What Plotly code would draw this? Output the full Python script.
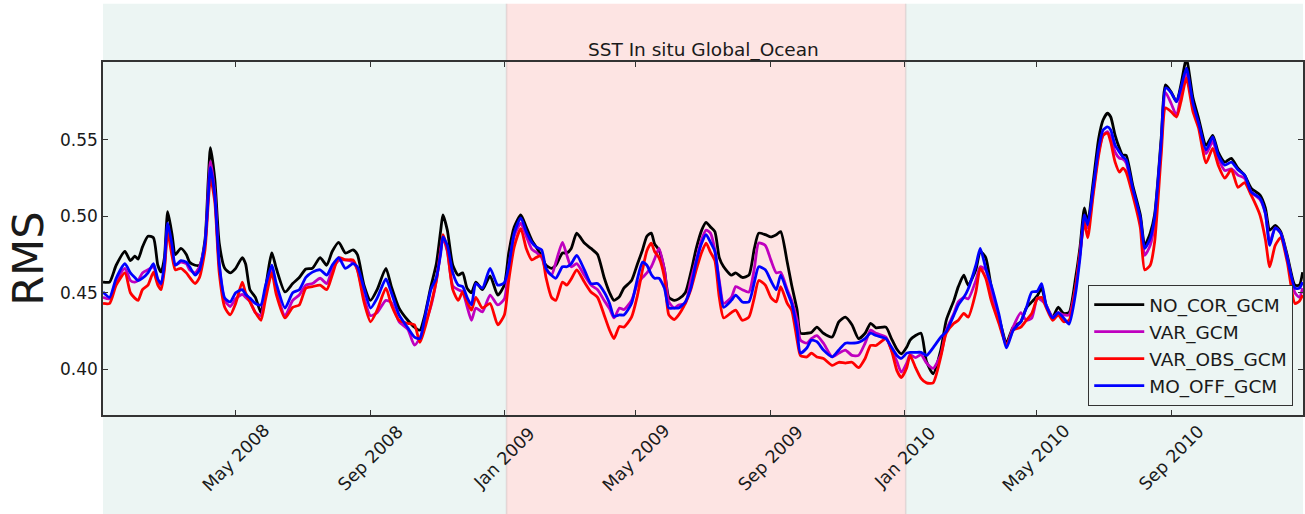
import pandas as pd
import plotly.graph_objects as go

# Days since 2008-01-01 of each RMS sample
day_offset = [
    0, 6, 12, 20, 25, 29, 32, 36, 41, 46, 50, 53, 56, 59, 63, 66, 71, 76, 79, 84,
    88, 93, 96, 98, 102, 106, 111, 116, 121, 127, 130, 134, 139, 144, 148, 154, 158, 166, 173, 179,
    185, 191, 198, 204, 209, 215, 221, 228, 232, 238, 244, 250, 258, 263, 270, 278, 284, 289, 293, 299,
    304, 308, 310, 314, 319, 324, 328, 332, 336, 340, 346, 353, 360, 366,
    370, 375, 381, 386, 391, 395, 400, 404, 409, 413, 419, 423, 427, 432, 439, 445, 451, 457, 462, 466,
    471, 475, 482, 487, 492, 496, 500, 503, 507, 512, 516, 521, 525, 531, 536, 541, 546,
    550, 554, 558, 562, 566, 573, 577, 583, 589, 594, 598, 604, 609, 614, 618, 624, 628, 633, 636, 642,
    646, 651, 657, 665, 671, 677, 683, 689, 695, 700, 705, 714, 719, 724, 728, 733,
    736, 741, 746, 751, 757, 764, 769, 776, 780, 785, 789, 796, 800, 805, 810, 817, 824, 830, 837, 842,
    847, 852, 856, 860, 866, 871, 876, 881, 887, 891,
    895, 898, 903, 908, 912, 916, 919, 923, 927, 930, 933, 939, 946, 950, 955, 959, 965, 969, 974, 979,
    983, 988, 994, 999, 1006, 1012, 1017, 1023, 1029, 1035, 1041, 1047, 1055, 1060, 1064, 1069, 1074, 1080,
    1087, 1091, 1094,
]

no_cor_gcm = [
    0.457, 0.457, 0.468, 0.477, 0.471, 0.474, 0.472, 0.480, 0.487, 0.486, 0.468, 0.4635, 0.473, 0.503, 0.488, 0.475, 0.479, 0.475, 0.470, 0.468,
    0.468, 0.4845, 0.524, 0.545, 0.524, 0.4825, 0.466, 0.463, 0.466, 0.473, 0.469, 0.452, 0.447, 0.437, 0.452, 0.476, 0.466, 0.4505, 0.456, 0.460,
    0.4655, 0.466, 0.473, 0.468, 0.477, 0.483, 0.476, 0.478, 0.475, 0.455, 0.445, 0.452, 0.466, 0.454, 0.440, 0.432, 0.4275, 0.4255, 0.434, 0.454,
    0.469, 0.491, 0.501, 0.491, 0.468, 0.4615, 0.463, 0.453, 0.450, 0.457, 0.452, 0.461, 0.4485, 0.455,
    0.476, 0.493, 0.501, 0.493, 0.4845, 0.480, 0.474, 0.468, 0.466, 0.468, 0.476, 0.476, 0.479, 0.489, 0.4825, 0.479, 0.475, 0.460, 0.450, 0.445,
    0.4475, 0.453, 0.458, 0.468, 0.478, 0.487, 0.489, 0.482, 0.478, 0.465, 0.447, 0.445, 0.446, 0.450, 0.463, 0.479, 0.491,
    0.496, 0.493, 0.490, 0.473, 0.467, 0.4615, 0.463, 0.460, 0.4615, 0.479, 0.489, 0.488, 0.4865, 0.488, 0.490, 0.470, 0.455, 0.4386, 0.4235, 0.4235,
    0.424, 0.4275, 0.4235, 0.421, 0.431, 0.434, 0.429, 0.420, 0.4235, 0.430, 0.427, 0.4275, 0.420, 0.413, 0.410, 0.4145,
    0.419, 0.422, 0.4235, 0.405, 0.397, 0.4125, 0.432, 0.445, 0.454, 0.4615, 0.455, 0.465, 0.477, 0.473, 0.454, 0.434, 0.4175, 0.4275, 0.431, 0.440,
    0.444, 0.448, 0.453, 0.442, 0.434, 0.4405, 0.4365, 0.437, 0.460, 0.480,
    0.5055, 0.496, 0.5225, 0.551, 0.563, 0.5675, 0.565, 0.553, 0.5445, 0.540, 0.540, 0.5205, 0.501, 0.481, 0.489, 0.501, 0.551, 0.586, 0.5815, 0.575,
    0.586, 0.603, 0.5775, 0.5645, 0.5465, 0.553, 0.542, 0.5355, 0.538, 0.5315, 0.527, 0.5185, 0.514, 0.5055, 0.491, 0.494, 0.490, 0.4745,
    0.455, 0.455, 0.4635,
]

var_gcm = [
    0.447, 0.446, 0.457, 0.466, 0.458, 0.457, 0.458, 0.463, 0.465, 0.467, 0.458, 0.455, 0.467, 0.493, 0.478, 0.468, 0.470, 0.469, 0.465, 0.463,
    0.467, 0.482, 0.516, 0.536, 0.515, 0.468, 0.445, 0.441, 0.446, 0.449, 0.447, 0.4445, 0.437, 0.435, 0.449, 0.466, 0.452, 0.435, 0.445, 0.4485,
    0.455, 0.456, 0.4595, 0.456, 0.465, 0.471, 0.4715, 0.470, 0.465, 0.447, 0.435, 0.437, 0.445, 0.4435, 0.431, 0.426, 0.4157, 0.4205, 0.428, 0.441,
    0.458, 0.478, 0.486, 0.477, 0.4545, 0.452, 0.4505, 0.441, 0.432, 0.440, 0.4375, 0.4485, 0.442, 0.446,
    0.467, 0.487, 0.4955, 0.487, 0.4785, 0.4765, 0.473, 0.465, 0.4615, 0.470, 0.483, 0.4745, 0.467, 0.469, 0.4615, 0.455, 0.452, 0.445, 0.4395, 0.4335,
    0.440, 0.439, 0.445, 0.455, 0.460, 0.463, 0.467, 0.472, 0.479, 0.465, 0.444, 0.440, 0.442, 0.443, 0.458, 0.4715, 0.485,
    0.491, 0.489, 0.478, 0.458, 0.443, 0.447, 0.454, 0.452, 0.4505, 0.466, 0.4825, 0.481, 0.4715, 0.463, 0.4635, 0.452, 0.445, 0.432, 0.419, 0.417,
    0.420, 0.422, 0.417, 0.408, 0.4105, 0.4125, 0.409, 0.409, 0.417, 0.4255, 0.4235, 0.421, 0.4125, 0.405, 0.398, 0.404,
    0.4095, 0.4075, 0.4095, 0.404, 0.4005, 0.4095, 0.4255, 0.4365, 0.444, 0.447, 0.446, 0.458, 0.467, 0.465, 0.450, 0.432, 0.4157, 0.4275, 0.437, 0.432,
    0.4335, 0.4465, 0.445, 0.442, 0.434, 0.437, 0.4355, 0.4355, 0.454, 0.476,
    0.4985, 0.4925, 0.516, 0.542, 0.553, 0.5555, 0.5515, 0.542, 0.538, 0.5375, 0.535, 0.516, 0.497, 0.4745, 0.481, 0.496, 0.546, 0.581, 0.574, 0.566,
    0.579, 0.594, 0.572, 0.5605, 0.541, 0.549, 0.538, 0.530, 0.531, 0.527, 0.525, 0.516, 0.511, 0.502, 0.483, 0.4925, 0.489, 0.4725,
    0.450, 0.447, 0.453,
]

var_obs_gcm = [
    0.443, 0.443, 0.455, 0.463, 0.450, 0.4465, 0.445, 0.452, 0.455, 0.4635, 0.455, 0.452, 0.465, 0.489, 0.474, 0.465, 0.466, 0.463, 0.460, 0.456,
    0.460, 0.478, 0.509, 0.5255, 0.509, 0.463, 0.4405, 0.4355, 0.443, 0.457, 0.450, 0.444, 0.437, 0.432, 0.445, 0.463, 0.449, 0.4335, 0.4405, 0.442,
    0.453, 0.454, 0.455, 0.452, 0.4615, 0.473, 0.4715, 0.4715, 0.465, 0.444, 0.431, 0.4386, 0.453, 0.442, 0.432, 0.430, 0.429, 0.4175, 0.4255, 0.442,
    0.458, 0.478, 0.488, 0.478, 0.452, 0.445, 0.4505, 0.444, 0.4386, 0.447, 0.440, 0.443, 0.429, 0.4355,
    0.458, 0.480, 0.492, 0.479, 0.4715, 0.473, 0.4745, 0.460, 0.447, 0.445, 0.457, 0.455, 0.459, 0.465, 0.457, 0.4505, 0.447, 0.4355, 0.4255, 0.420,
    0.428, 0.4275, 0.434, 0.447, 0.465, 0.4775, 0.4825, 0.477, 0.473, 0.460, 0.4355, 0.4325, 0.4355, 0.443, 0.452, 0.465, 0.4765,
    0.4825, 0.4765, 0.471, 0.447, 0.4335, 0.437, 0.4386, 0.432, 0.434, 0.447, 0.458, 0.455, 0.447, 0.444, 0.454, 0.443, 0.4386, 0.419, 0.409, 0.408,
    0.4105, 0.408, 0.407, 0.4025, 0.4045, 0.404, 0.4045, 0.401, 0.407, 0.4155, 0.4155, 0.420, 0.4125, 0.399, 0.3945, 0.401,
    0.409, 0.401, 0.394, 0.391, 0.391, 0.408, 0.4235, 0.430, 0.432, 0.4365, 0.434, 0.4505, 0.466, 0.4595, 0.445, 0.430, 0.4157, 0.4255, 0.4275, 0.432,
    0.4365, 0.446, 0.447, 0.4405, 0.432, 0.4355, 0.431, 0.432, 0.454, 0.476,
    0.496, 0.486, 0.514, 0.540, 0.553, 0.5545, 0.5485, 0.5355, 0.529, 0.5315, 0.529, 0.514, 0.4925, 0.465, 0.468, 0.483, 0.540, 0.571, 0.5685, 0.565,
    0.575, 0.5905, 0.5685, 0.558, 0.535, 0.5445, 0.5335, 0.525, 0.5305, 0.519, 0.522, 0.514, 0.501, 0.485, 0.467, 0.481, 0.486, 0.470,
    0.443, 0.4445, 0.4485,
]

mo_off_gcm = [
    0.4505, 0.447, 0.4595, 0.469, 0.463, 0.460, 0.458, 0.4595, 0.463, 0.469, 0.459, 0.456, 0.469, 0.4955, 0.481, 0.468, 0.471, 0.470, 0.467, 0.4615,
    0.465, 0.4825, 0.513, 0.532, 0.513, 0.469, 0.4465, 0.444, 0.450, 0.452, 0.449, 0.4465, 0.443, 0.442, 0.454, 0.468, 0.456, 0.440, 0.450, 0.452,
    0.460, 0.4635, 0.465, 0.4615, 0.468, 0.473, 0.466, 0.469, 0.467, 0.453, 0.440, 0.4465, 0.459, 0.450, 0.4355, 0.427, 0.421, 0.420, 0.432, 0.452,
    0.460, 0.476, 0.4865, 0.481, 0.463, 0.455, 0.454, 0.447, 0.442, 0.456, 0.453, 0.466, 0.455, 0.4565,
    0.467, 0.489, 0.499, 0.490, 0.483, 0.480, 0.478, 0.466, 0.4615, 0.4595, 0.467, 0.467, 0.469, 0.4745, 0.465, 0.456, 0.456, 0.4505, 0.443, 0.4345,
    0.4355, 0.4355, 0.443, 0.458, 0.470, 0.468, 0.462, 0.4595, 0.4595, 0.453, 0.440, 0.440, 0.440, 0.444, 0.453, 0.470, 0.4825,
    0.488, 0.483, 0.477, 0.456, 0.4405, 0.445, 0.4485, 0.444, 0.444, 0.457, 0.467, 0.465, 0.458, 0.452, 0.4615, 0.4505, 0.443, 0.4255, 0.4105, 0.414,
    0.419, 0.418, 0.4125, 0.408, 0.4125, 0.417, 0.417, 0.4175, 0.420, 0.4235, 0.422, 0.420, 0.4145, 0.409, 0.407, 0.4105,
    0.411, 0.411, 0.411, 0.409, 0.414, 0.421, 0.4245, 0.4355, 0.442, 0.447, 0.4525, 0.468, 0.479, 0.466, 0.455, 0.436, 0.414, 0.4255, 0.431, 0.440,
    0.4505, 0.451, 0.456, 0.442, 0.4335, 0.437, 0.4335, 0.4295, 0.450, 0.473,
    0.501, 0.4945, 0.5185, 0.5445, 0.5565, 0.5585, 0.5565, 0.5465, 0.542, 0.539, 0.537, 0.5185, 0.499, 0.479, 0.4855, 0.499, 0.5485, 0.584, 0.581, 0.575,
    0.584, 0.597, 0.574, 0.5615, 0.5435, 0.552, 0.540, 0.5335, 0.5355, 0.5305, 0.527, 0.516, 0.512, 0.502, 0.481, 0.4925, 0.489, 0.4725,
    0.453, 0.453, 0.457,
]

series_names = ["NO_COR_GCM", "VAR_GCM", "VAR_OBS_GCM", "MO_OFF_GCM"]
series_values = [no_cor_gcm, var_gcm, var_obs_gcm, mo_off_gcm]
series_colors = ["#000000", "#BF00BF", "#FF0000", "#0000FF"]

# Shaded periods (2009 highlighted)
period_bounds = ["2008-01-01", "2009-01-03", "2010-01-02", "2011-01-01"]
period_fill = ["#ECF5F3", "#FDE4E3", "#ECF5F3"]

tick_dates = ["2008-05-01", "2008-09-01", "2009-01-01", "2009-05-01", "2009-09-01",
              "2010-01-01", "2010-05-01", "2010-09-01"]
tick_text = ["May 2008", "Sep 2008", "Jan 2009", "May 2009", "Sep 2009",
             "Jan 2010", "May 2010", "Sep 2010"]
y_ticks = [0.40, 0.45, 0.50, 0.55]

dates = pd.Timestamp("2008-01-01") + pd.to_timedelta(day_offset, unit="D")

FONT = "DejaVu Sans"
fig = go.Figure()

for name, vals, col in zip(series_names, series_values, series_colors):
    fig.add_trace(go.Scatter(
        x=dates, y=vals, mode="lines", name=name, legendgroup=name,
        line=dict(color=col, width=2.8, shape="spline", smoothing=0.6),
    ))

for i, col in enumerate(period_fill):
    fig.add_shape(
        type="rect", xref="x", yref="paper",
        x0=period_bounds[i], x1=period_bounds[i + 1], y0=-0.29, y1=1.165,
        fillcolor=col, line=dict(width=0), layer="below",
    )
for b in period_bounds[1:3]:
    fig.add_shape(
        type="line", xref="x", yref="paper", x0=b, x1=b, y0=-0.29, y1=1.165,
        line=dict(color="rgba(190,170,170,0.35)", width=1.5), layer="below",
    )

# Date labels centred under their ticks, rotated 45 degrees
for d, t in zip(tick_dates, tick_text):
    fig.add_annotation(
        x=d, xref="x", y=-0.122, yref="paper", text=t, textangle=-45,
        showarrow=False, xanchor="center", yanchor="middle",
        font=dict(family=FONT, size=17.5, color="#1a1a1a"),
    )

fig.add_annotation(
    x=0.5, xref="paper", y=1.034, yref="paper", text="SST In situ Global_Ocean",
    showarrow=False, xanchor="center", yanchor="middle",
    font=dict(family=FONT, size=18.5, color="#1a1a1a"),
)
fig.add_annotation(
    x=-0.0632, xref="paper", y=0.443, yref="paper", text="RMS", textangle=-90,
    showarrow=False, xanchor="center", yanchor="middle",
    font=dict(family=FONT, size=43, color="#1a1a1a"),
)

fig.update_layout(
    width=1305, height=514,
    margin=dict(l=103, r=0, t=62, b=99),
    paper_bgcolor="white", plot_bgcolor="rgba(0,0,0,0)",
    font=dict(family=FONT, size=17, color="#1a1a1a"),
    showlegend=True,
    legend=dict(
        x=0.9917, xanchor="right", y=0.026, yanchor="bottom",
        bgcolor="#ECF5F3", bordercolor="#333333", borderwidth=1.2,
        font=dict(family=FONT, size=18.5, color="#1a1a1a"),
        traceorder="grouped", tracegroupgap=0, itemwidth=50,
    ),
    xaxis=dict(
        type="date", range=["2008-01-01", "2010-12-30 08:00"],
        tickvals=tick_dates, showticklabels=False,
        ticks="inside", ticklen=5, tickwidth=1, tickcolor="#333333",
        showline=True, linecolor="#333333", linewidth=1.5, mirror="ticks",
        showgrid=False, zeroline=False,
    ),
    yaxis=dict(
        range=[0.370, 0.601], tickvals=y_ticks, tickformat=".2f",
        ticks="inside", ticklen=5, tickwidth=1, tickcolor="#333333",
        showline=True, linecolor="#333333", linewidth=1.5, mirror="ticks",
        showgrid=False, zeroline=False,
        tickfont=dict(family=FONT, size=17, color="#1a1a1a"),
    ),
)

fig.write_html("out.html")
